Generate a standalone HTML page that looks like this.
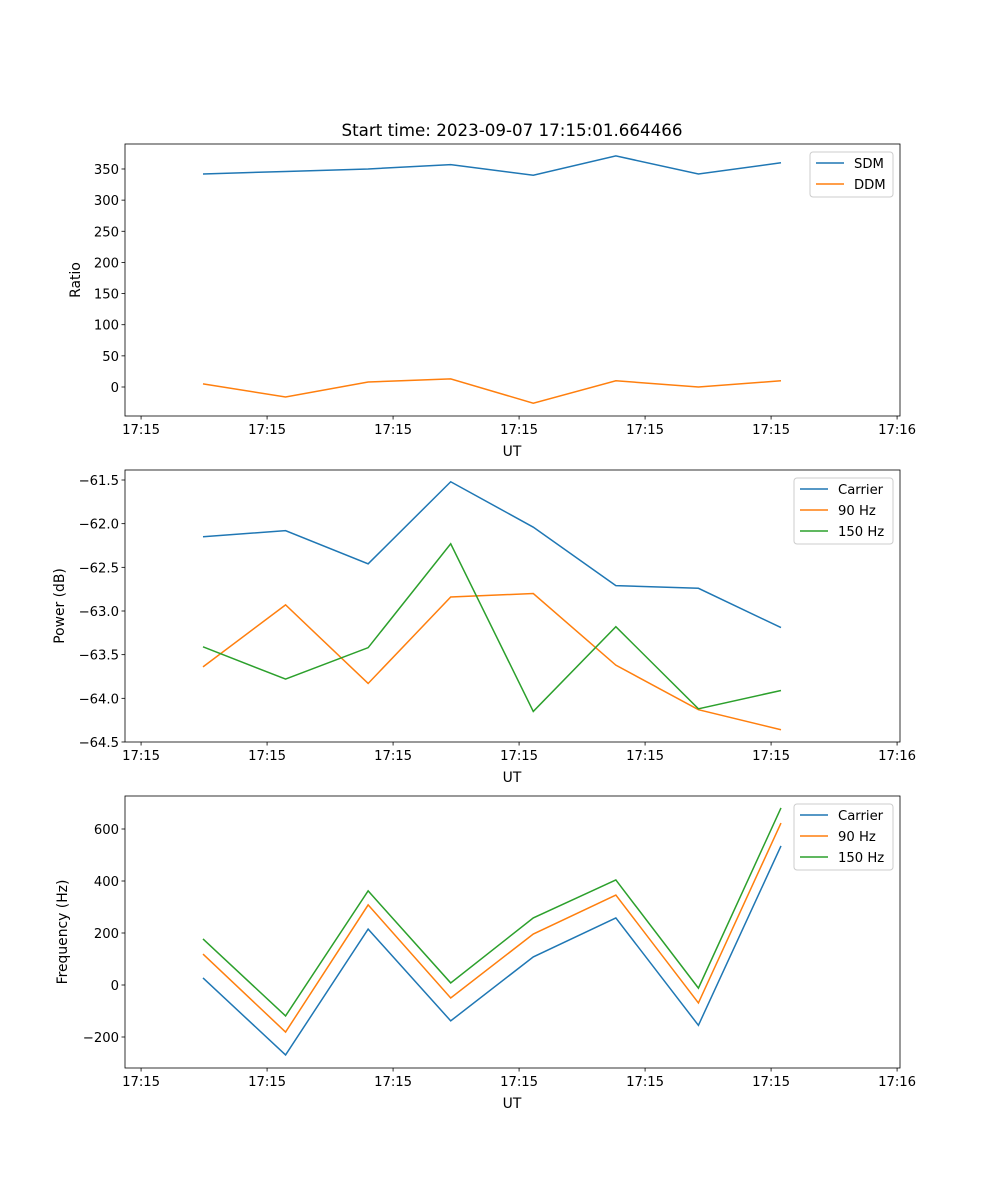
<!DOCTYPE html>
<html><head><meta charset="utf-8"><style>
body{margin:0;background:#fff}
svg{display:block;font-family:"DejaVu Sans","Liberation Sans",sans-serif}
</style></head><body>
<svg id="fig" width="1000" height="1200" xmlns="http://www.w3.org/2000/svg">
<rect width="1000" height="1200" fill="#fff"/>
<text x="512" y="136" font-size="16.7" text-anchor="middle">Start time: 2023-09-07 17:15:01.664466</text>
</svg>
<script>
const xTickPos = [-0.75, 0.776, 2.302, 3.828, 5.354, 6.88, 8.406];
const xTickLabels = ["17:15","17:15","17:15","17:15","17:15","17:15","17:16"];
const sdm = [342, 346, 350, 357, 340, 371, 342, 360];
const ddm = [5, -16, 8, 13, -26, 10, 0, 10];
const powCarrier = [-62.15, -62.08, -62.46, -61.52, -62.04, -62.71, -62.74, -63.19];
const pow90 = [-63.64, -62.93, -63.83, -62.84, -62.80, -63.62, -64.13, -64.36];
const pow150 = [-63.41, -63.78, -63.42, -62.23, -64.15, -63.18, -64.12, -63.91];
const freqCarrier = [27, -269, 215, -138, 108, 258, -155, 535];
const freq90 = [119, -181, 308, -50, 196, 346, -69, 623];
const freq150 = [177, -119, 362, 8, 258, 404, -12, 681];
const ratioTicks = [0,50,100,150,200,250,300,350];
const powTicks = [-61.5,-62.0,-62.5,-63.0,-63.5,-64.0,-64.5];
const freqTicks = [-200,0,200,400,600];

const NS="http://www.w3.org/2000/svg";
const svg=document.getElementById('fig');
function el(tag,attrs,parent){const e=document.createElementNS(NS,tag);for(const k in attrs)e.setAttribute(k,attrs[k]);(parent||svg).appendChild(e);return e;}
const L=125,R=900;
const xs=i=>203+i*82.57;
const FS=13.9, TFS=13.2;

function panel(name,top,bottom,yfn,ticks,fmt,ylabel,series,legend){
  const g=el('g',{});
  
  
  series.forEach(s=>{
    const p=el('polyline',{points:s.vals.map((v,i)=>xs(i)+','+yfn(v)).join(' '),fill:'none',stroke:s.color,'stroke-width':1.5},g);
    
    
  });
  const fr=el('rect',{x:L,y:top,width:R-L,height:bottom-top,fill:'none',stroke:'#000','stroke-width':0.8},g);
  
  
  xTickPos.forEach((t,k)=>{
    const x=xs(t);
    el('line',{x1:x,x2:x,y1:bottom,y2:bottom+3.5,stroke:'#000','stroke-width':0.8},g);
    const tx=el('text',{x:x,y:bottom+18,'font-size':TFS,'text-anchor':'middle'},g);
    tx.textContent=xTickLabels[k];
    
    
  });
  ticks.forEach(t=>{
    const y=yfn(t);
    el('line',{x1:L-3.5,x2:L,y1:y,y2:y,stroke:'#000','stroke-width':0.8},g);
    const tx=el('text',{x:L-6,y:y+5,'font-size':TFS,'text-anchor':'end'},g);
    tx.textContent=fmt(t);
    
    
  });
  const xl=el('text',{x:512,y:bottom+40,'font-size':FS,'text-anchor':'middle'},g);
  xl.textContent='UT';
  
  
  const yl=el('text',{x:0,y:0,'font-size':FS,'text-anchor':'middle',transform:`translate(${legend.ylx},${(top+bottom)/2}) rotate(-90)`},g);
  yl.textContent=ylabel;
  
  
  const lg=el('g',{},g);
  
  
  el('rect',{x:legend.x,y:top+8,width:893-legend.x,height:series.length*21+3,rx:3,fill:'#fff',stroke:'#ccc','stroke-width':1},lg);
  series.forEach((s,k)=>{
    const y=top+19+k*21;
    el('line',{x1:legend.x+6,x2:legend.x+34,y1:y,y2:y,stroke:s.color,'stroke-width':1.5},lg);
    const t=el('text',{x:legend.x+44,y:y+5,'font-size':TFS},lg);
    t.textContent=s.label;
    
    
  });
}
const B='#1f77b4',O='#ff7f0e',G='#2ca02c';
panel('ratio-panel',144,416,v=>387-v*0.6229,ratioTicks,t=>String(t),'Ratio',
  [{name:'sdm-line',label:'SDM',vals:sdm,color:B},{name:'ddm-line',label:'DDM',vals:ddm,color:O}],{x:810,ylx:80});
panel('power-panel',470,742,v=>480+(-61.5-v)*87.33,powTicks,t=>'\u2212'+Math.abs(t).toFixed(1),'Power (dB)',
  [{name:'power-carrier-line',label:'Carrier',vals:powCarrier,color:B},{name:'power-90hz-line',label:'90 Hz',vals:pow90,color:O},{name:'power-150hz-line',label:'150 Hz',vals:pow150,color:G}],{x:794,ylx:64});
panel('frequency-panel',796,1068,v=>985-v*0.26,freqTicks,t=>(t<0?'\u2212':'')+Math.abs(t),'Frequency (Hz)',
  [{name:'freq-carrier-line',label:'Carrier',vals:freqCarrier,color:B},{name:'freq-90hz-line',label:'90 Hz',vals:freq90,color:O},{name:'freq-150hz-line',label:'150 Hz',vals:freq150,color:G}],{x:794,ylx:67});
</script>
</body></html>
